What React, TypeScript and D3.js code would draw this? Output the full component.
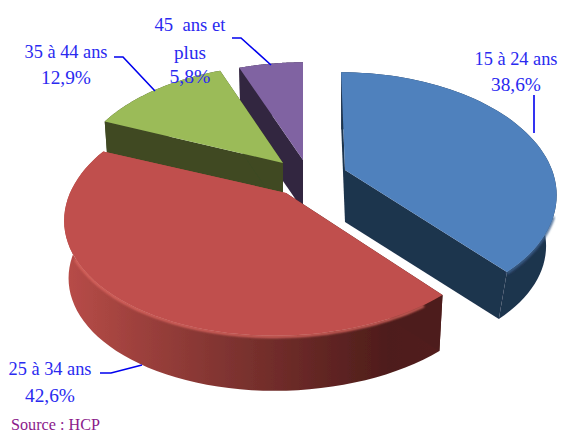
import React from "react";
import * as d3 from "d3";

// Age groups and their shares, clockwise from twelve o'clock
const ageGroups = ["15 à 24 ans", "25 à 34 ans", "35 à 44 ans", "45 ans et plus"];
const shares = [38.6, 42.6, 12.9, 5.8];

// Colours of the top faces and of the side walls
const topColors = ["#4f81bd", "#c0504d", "#9bbb59", "#8064a2"];
const wallColors = ["#1f344e", "url(#redWall)", "#3f4a24", "#332640"];
const rimColors = ["#3d628f", "#d9655f", "none", "none"];

// Where each exploded slice sits on the page: tip of the wedge, width, lean, wall
const tipX = [345, 286, 283, 303];
const tipY = [170, 193, 163, 160];
const radiusX = [207, 216, 207, 210];
const lean = [0.04, -0.08, 0, 0];
const wallDepth = [52, 58, 50, 50];
const wallShrink = [0.95, 0.98, 0.98, 0.98];

const radiusY = 116;
const perspective = 0.187;

type Pt = [number, number];

const project = (i: number, a: number, s: number, dy: number): Pt => {
  const u = Math.sin(a);
  const v = -Math.cos(a);
  const w = 1 / (1 - perspective * v);
  const Y = radiusY * v * w;
  const X = radiusX[i] * u * w + lean[i] * Y;
  return [tipX[i] + X * s, tipY[i] + dy + Y * s];
};

const pieLayout = d3.pie<number>().sort(null).value((d) => d);
const slices = pieLayout(shares);
const toPath = d3.line<Pt>();

const arcPoints = (i: number, a0: number, a1: number, s: number, dy: number): Pt[] =>
  d3.range(0, 61).map((k) => project(i, a0 + ((a1 - a0) * k) / 60, s, dy));

// Back slices first so the front ones overlap them
const drawOrder = [3, 2, 0, 1];

const labelLines = [
  { lines: ["15 à 24 ans", "38,6%"], x: 516, y: [65, 91], widths: [83, 50] },
  { lines: ["25 à 34 ans", "42,6%"], x: 50, y: [375, 402], widths: [83, 50] },
  { lines: ["35 à 44 ans", "12,9%"], x: 66, y: [58, 84], widths: [83, 50] },
  { lines: ["45\u00a0 ans et", "plus", "5,8%"], x: 190, y: [31, 59, 83], widths: [71, 32, 41] },
];

const leaders: Pt[][] = [
  [[534, 95], [534, 133]],
  [[100, 373], [111, 373], [142, 365]],
  [[114, 57], [123, 57], [155, 91]],
  [[232, 38], [241, 38], [271, 65]],
];

const redStops: [number, string][] = [
  [0, "#b84c48"],
  [0.2, "#9c403c"],
  [0.45, "#7c322f"],
  [0.7, "#5f2422"],
  [0.85, "#4e1d1b"],
  [1, "#521f1d"],
];

export default function App() {
  return (
    <svg
      width={561}
      height={433}
      style={{ position: "absolute", left: 0, top: 0, background: "#fff" }}
      fontFamily="'Liberation Serif', serif"
    >
      <defs>
        <linearGradient id="redWall" gradientUnits="userSpaceOnUse" x1={66} x2={446} y1={0} y2={0}>
          {redStops.map(([o, c]) => (
            <stop key={o} offset={o} stopColor={c} />
          ))}
        </linearGradient>
        <filter id="soft" x="-5%" y="-5%" width="110%" height="110%">
          <feGaussianBlur stdDeviation={0.6} />
        </filter>
        <filter id="rim" x="-5%" y="-10%" width="110%" height="120%">
          <feGaussianBlur stdDeviation={1.2} />
        </filter>
      </defs>

      <g filter="url(#soft)">
        {drawOrder.map((i) => {
          const { startAngle: a0, endAngle: a1 } = slices[i];
          const topArc = arcPoints(i, a0, a1, 1, 0);
          const lowArc = arcPoints(i, a0, a1, wallShrink[i], wallDepth[i]);
          const tip: Pt = [tipX[i], tipY[i]];
          const lowTip: Pt = [tipX[i], tipY[i] + wallDepth[i]];
          // Highlight follows the part of the rim that faces the viewer
          const rimStart = i === 0 ? Math.PI * 0.62 : a0 + 0.1;
          const rimEnd = i === 1 ? Math.PI * 1.33 : a1;
          return (
            <g key={ageGroups[i]}>
              <path d={toPath([...topArc, ...[...lowArc].reverse()]) + "Z"} fill={wallColors[i]} />
              <path
                d={toPath([tip, topArc[0], lowArc[0], lowTip]) + "Z"}
                fill={i === 1 ? "#4e1d1b" : wallColors[i]}
              />
              <path
                d={toPath([tip, topArc[60], lowArc[60], lowTip]) + "Z"}
                fill={i === 1 ? "#b84c48" : wallColors[i]}
              />
              {rimColors[i] !== "none" && (
                <path
                  d={toPath(arcPoints(i, rimStart, rimEnd, 1, 1)) ?? ""}
                  fill="none"
                  stroke={rimColors[i]}
                  strokeWidth={2.5}
                  filter="url(#rim)"
                />
              )}
              <path d={toPath([tip, ...topArc]) + "Z"} fill={topColors[i]} />
            </g>
          );
        })}
      </g>

      {leaders.map((pts, i) => (
        <path key={i} d={toPath(pts) ?? ""} fill="none" stroke="#0000ee" strokeWidth={1.6} />
      ))}

      {labelLines.map((l) =>
        l.lines.map((t, k) => (
          <text
            key={t}
            x={l.x}
            y={l.y[k]}
            textAnchor="middle"
            fontSize={19}
            fill="#2a2af0"
            textLength={l.widths[k]}
            lengthAdjust="spacingAndGlyphs"
          >
            {t}
          </text>
        ))
      )}

      <text x={11} y={430} fontSize={16.5} fill="#8b1a8b" textLength={89} lengthAdjust="spacingAndGlyphs">
        Source : HCP
      </text>
    </svg>
  );
}
